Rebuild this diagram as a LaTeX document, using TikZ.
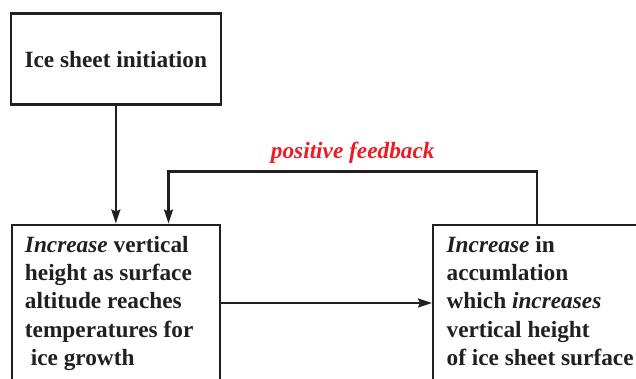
\documentclass[tikz,border=0pt]{standalone}
\usepackage{fontspec}
\setmainfont{Liberation Serif}
\usetikzlibrary{arrows.meta,positioning}
\definecolor{inkgray}{HTML}{231F20}
\definecolor{feedred}{HTML}{ED1C24}

\begin{document}
\begin{tikzpicture}[x=1pt,y=-1pt,color=inkgray,font=\fontsize{23.3}{28.3}\selectfont\bfseries,
	box/.style={draw,rectangle,line width=2.3pt,align=left,execute at begin node={\spaceskip=0pt\xspaceskip=0pt}},
	flow/.style={line width=2.3pt,-{Stealth[length=14pt,width=9pt,inset=2pt]}}]
	\useasboundingbox (0,0) rectangle (636,378);
	\clip (0,0) rectangle (636,378);

	\node[box,minimum width=210pt,minimum height=91pt,align=center] (init) at (115.8,59.1) {Ice sheet initiation};
	\node[box,anchor=north west,text width=182pt,inner xsep=13pt,inner ysep=11.5pt,text depth=140pt] (grow) at (10.8,223.5) {\textit{Increase} vertical\\height as surface\\altitude reaches\\temperatures for\\\ ice growth};
	\node[box,anchor=north west,text width=200pt,inner xsep=13.5pt,inner ysep=11.5pt,text depth=140pt] (accum) at (432,223.5) {\textit{Increase} in\\accumlation\\which \textit{increases}\\vertical height\\of ice sheet surface};

	\coordinate (upright) at (537,171.5);
	\coordinate (upleft) at (168.5,171.5);

	\draw[flow] (init.south) -- (init.south |- grow.north);
	\draw[flow] (grow.east |- 0,303) -- (accum.west |- 0,303);
	\draw[flow] (upright |- accum.north) -- (upright) -- node[above=4pt,text=feedred,font=\fontsize{23.3}{28.3}\selectfont\bfseries\itshape] (fblabel) {positive feedback} (upleft) -- (upleft |- grow.north);
\end{tikzpicture}
\end{document}
